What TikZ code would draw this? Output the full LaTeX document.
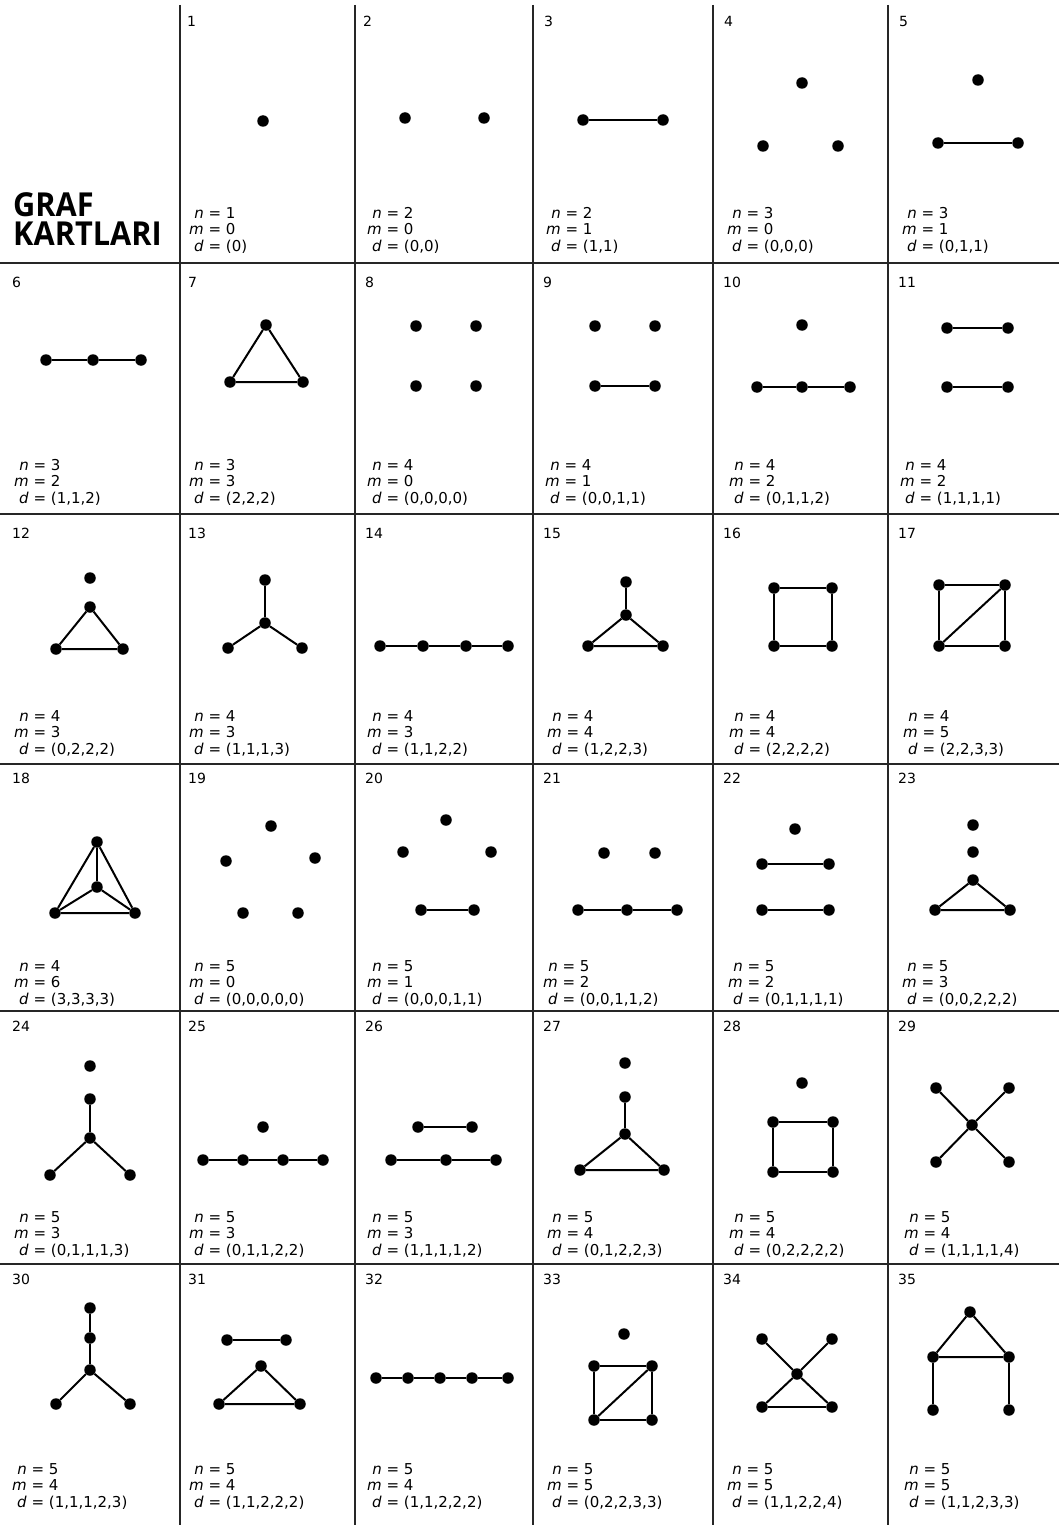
\documentclass[tikz,border=0pt]{standalone}
\usepackage{fontspec}
\setmainfont{DejaVu Sans}
\newfontfamily\titlefont[FakeStretch=0.93]{Open Sans}
\newcommand\cardinfo[5]{\node[info] (#1) at (#2) {\begin{tabular}[b]{@{}r@{\ =\ }l@{}}\textit{n}&#3\\\textit{m}&#4\\\textit{d}&#5\end{tabular}};}
\begin{document}
\begin{tikzpicture}[x=1pt,y=-1pt,
  v/.style={circle,fill=black,inner sep=0pt,minimum size=11.5pt},
  e/.style={line width=2pt},
  rule/.style={line width=1.8pt,black!85},
  num/.style={anchor=base west,inner sep=0pt,font=\fontsize{14}{16}\selectfont},
  info/.style={anchor=base west,inner sep=0pt,font=\fontsize{15}{16}\selectfont},
  ttl/.style={anchor=north west,inner sep=0pt,align=left,font=\titlefont\bfseries\fontsize{33}{29.5}\selectfont}]
\fill[white] (0,0) rectangle (1059,1525);
\useasboundingbox (0,0) rectangle (1059,1525);
% grid
\foreach \yy in {263,514,764,1011,1264} \draw[rule] (0,\yy) -- (1059,\yy);
\foreach \xx in {180,355,533,713,888} \draw[rule] (\xx,5) -- (\xx,1525);
% title
\node[ttl] (title) at (13,192) {GRAF\\KARTLARI};
% cell numbers
\node[num] (n1) at (187,27) {1};
\node[num] (n2) at (363,27) {2};
\node[num] (n3) at (544,27) {3};
\node[num] (n4) at (724,27) {4};
\node[num] (n5) at (899,27) {5};
\node[num] (n6) at (12,287) {6};
\node[num] (n7) at (188,287) {7};
\node[num] (n8) at (365,287) {8};
\node[num] (n9) at (543,287) {9};
\node[num] (n10) at (723,287) {10};
\node[num] (n11) at (898,287) {11};
\node[num] (n12) at (12,538) {12};
\node[num] (n13) at (188,538) {13};
\node[num] (n14) at (365,538) {14};
\node[num] (n15) at (543,538) {15};
\node[num] (n16) at (723,538) {16};
\node[num] (n17) at (898,538) {17};
\node[num] (n18) at (12,783) {18};
\node[num] (n19) at (188,783) {19};
\node[num] (n20) at (365,783) {20};
\node[num] (n21) at (543,783) {21};
\node[num] (n22) at (723,783) {22};
\node[num] (n23) at (898,783) {23};
\node[num] (n24) at (12,1031) {24};
\node[num] (n25) at (188,1031) {25};
\node[num] (n26) at (365,1031) {26};
\node[num] (n27) at (543,1031) {27};
\node[num] (n28) at (723,1031) {28};
\node[num] (n29) at (898,1031) {29};
\node[num] (n30) at (12,1284) {30};
\node[num] (n31) at (188,1284) {31};
\node[num] (n32) at (365,1284) {32};
\node[num] (n33) at (543,1284) {33};
\node[num] (n34) at (723,1284) {34};
\node[num] (n35) at (898,1284) {35};
% info texts
\cardinfo{i1}{189,251}{1}{0}{(0)}
\cardinfo{i2}{367,251}{2}{0}{(0,0)}
\cardinfo{i3}{546,251}{2}{1}{(1,1)}
\cardinfo{i4}{727,251}{3}{0}{(0,0,0)}
\cardinfo{i5}{902,251}{3}{1}{(0,1,1)}
\cardinfo{i6}{14,503}{3}{2}{(1,1,2)}
\cardinfo{i7}{189,503}{3}{3}{(2,2,2)}
\cardinfo{i8}{367,503}{4}{0}{(0,0,0,0)}
\cardinfo{i9}{545,503}{4}{1}{(0,0,1,1)}
\cardinfo{i10}{729,503}{4}{2}{(0,1,1,2)}
\cardinfo{i11}{900,503}{4}{2}{(1,1,1,1)}
\cardinfo{i12}{14,754}{4}{3}{(0,2,2,2)}
\cardinfo{i13}{189,754}{4}{3}{(1,1,1,3)}
\cardinfo{i14}{367,754}{4}{3}{(1,1,2,2)}
\cardinfo{i15}{547,754}{4}{4}{(1,2,2,3)}
\cardinfo{i16}{729,754}{4}{4}{(2,2,2,2)}
\cardinfo{i17}{903,754}{4}{5}{(2,2,3,3)}
\cardinfo{i18}{14,1004}{4}{6}{(3,3,3,3)}
\cardinfo{i19}{189,1004}{5}{0}{(0,0,0,0,0)}
\cardinfo{i20}{367,1004}{5}{1}{(0,0,0,1,1)}
\cardinfo{i21}{543,1004}{5}{2}{(0,0,1,1,2)}
\cardinfo{i22}{728,1004}{5}{2}{(0,1,1,1,1)}
\cardinfo{i23}{902,1004}{5}{3}{(0,0,2,2,2)}
\cardinfo{i24}{14,1255}{5}{3}{(0,1,1,1,3)}
\cardinfo{i25}{189,1255}{5}{3}{(0,1,1,2,2)}
\cardinfo{i26}{367,1255}{5}{3}{(1,1,1,1,2)}
\cardinfo{i27}{547,1255}{5}{4}{(0,1,2,2,3)}
\cardinfo{i28}{729,1255}{5}{4}{(0,2,2,2,2)}
\cardinfo{i29}{904,1255}{5}{4}{(1,1,1,1,4)}
\cardinfo{i30}{12,1507}{5}{4}{(1,1,1,2,3)}
\cardinfo{i31}{189,1507}{5}{4}{(1,1,2,2,2)}
\cardinfo{i32}{367,1507}{5}{4}{(1,1,2,2,2)}
\cardinfo{i33}{547,1507}{5}{5}{(0,2,2,3,3)}
\cardinfo{i34}{727,1507}{5}{5}{(1,1,2,2,4)}
\cardinfo{i35}{904,1507}{5}{5}{(1,1,2,3,3)}
% ---------- graphs ----------
% 1
\node[v] (g1a) at (263,121) {};
% 2
\node[v] (g2a) at (405,118) {};
\node[v] (g2b) at (484,118) {};
% 3
\node[v] (g3a) at (583,120) {};
\node[v] (g3b) at (663,120) {};
\draw[e] (g3a) -- (g3b);
% 4
\node[v] (g4a) at (802,83) {};
\node[v] (g4b) at (763,146) {};
\node[v] (g4c) at (838,146) {};
% 5
\node[v] (g5a) at (978,80) {};
\node[v] (g5b) at (938,143) {};
\node[v] (g5c) at (1018,143) {};
\draw[e] (g5b) -- (g5c);
% 6
\node[v] (g6a) at (46,360) {};
\node[v] (g6b) at (93,360) {};
\node[v] (g6c) at (141,360) {};
\draw[e] (g6a) -- (g6b) -- (g6c);
% 7
\node[v] (g7a) at (266,325) {};
\node[v] (g7b) at (230,382) {};
\node[v] (g7c) at (303,382) {};
\draw[e] (g7a) -- (g7b) -- (g7c) -- (g7a);
% 8
\node[v] (g8a) at (416,326) {};
\node[v] (g8b) at (476,326) {};
\node[v] (g8c) at (416,386) {};
\node[v] (g8d) at (476,386) {};
% 9
\node[v] (g9a) at (595,326) {};
\node[v] (g9b) at (655,326) {};
\node[v] (g9c) at (595,386) {};
\node[v] (g9d) at (655,386) {};
\draw[e] (g9c) -- (g9d);
% 10
\node[v] (g10a) at (802,325) {};
\node[v] (g10b) at (757,387) {};
\node[v] (g10c) at (802,387) {};
\node[v] (g10d) at (850,387) {};
\draw[e] (g10b) -- (g10c) -- (g10d);
% 11
\node[v] (g11a) at (947,328) {};
\node[v] (g11b) at (1008,328) {};
\node[v] (g11c) at (947,387) {};
\node[v] (g11d) at (1008,387) {};
\draw[e] (g11a) -- (g11b);
\draw[e] (g11c) -- (g11d);
% 12
\node[v] (g12a) at (90,578) {};
\node[v] (g12b) at (90,607) {};
\node[v] (g12c) at (56,649) {};
\node[v] (g12d) at (123,649) {};
\draw[e] (g12b) -- (g12c) -- (g12d) -- (g12b);
% 13
\node[v] (g13a) at (265,580) {};
\node[v] (g13b) at (265,623) {};
\node[v] (g13c) at (228,648) {};
\node[v] (g13d) at (302,648) {};
\draw[e] (g13a) -- (g13b);
\draw[e] (g13b) -- (g13c);
\draw[e] (g13b) -- (g13d);
% 14
\node[v] (g14a) at (380,646) {};
\node[v] (g14b) at (423,646) {};
\node[v] (g14c) at (466,646) {};
\node[v] (g14d) at (508,646) {};
\draw[e] (g14a) -- (g14b) -- (g14c) -- (g14d);
% 15
\node[v] (g15a) at (626,582) {};
\node[v] (g15b) at (626,615) {};
\node[v] (g15c) at (588,646) {};
\node[v] (g15d) at (663,646) {};
\draw[e] (g15a) -- (g15b);
\draw[e] (g15b) -- (g15c) -- (g15d) -- (g15b);
% 16
\node[v] (g16a) at (774,588) {};
\node[v] (g16b) at (832,588) {};
\node[v] (g16c) at (832,646) {};
\node[v] (g16d) at (774,646) {};
\draw[e] (g16a) -- (g16b) -- (g16c) -- (g16d) -- (g16a);
% 17
\node[v] (g17a) at (939,585) {};
\node[v] (g17b) at (1005,585) {};
\node[v] (g17c) at (1005,646) {};
\node[v] (g17d) at (939,646) {};
\draw[e] (g17a) -- (g17b) -- (g17c) -- (g17d) -- (g17a);
\draw[e] (g17d) -- (g17b);
% 18
\node[v] (g18a) at (97,842) {};
\node[v] (g18b) at (97,887) {};
\node[v] (g18c) at (55,913) {};
\node[v] (g18d) at (135,913) {};
\draw[e] (g18a) -- (g18c) -- (g18d) -- (g18a);
\draw[e] (g18b) -- (g18a);
\draw[e] (g18b) -- (g18c);
\draw[e] (g18b) -- (g18d);
% 19
\node[v] (g19a) at (271,826) {};
\node[v] (g19b) at (226,861) {};
\node[v] (g19c) at (315,858) {};
\node[v] (g19d) at (243,913) {};
\node[v] (g19e) at (298,913) {};
% 20
\node[v] (g20a) at (446,820) {};
\node[v] (g20b) at (403,852) {};
\node[v] (g20c) at (491,852) {};
\node[v] (g20d) at (421,910) {};
\node[v] (g20e) at (474,910) {};
\draw[e] (g20d) -- (g20e);
% 21
\node[v] (g21a) at (604,853) {};
\node[v] (g21b) at (655,853) {};
\node[v] (g21c) at (578,910) {};
\node[v] (g21d) at (627,910) {};
\node[v] (g21e) at (677,910) {};
\draw[e] (g21c) -- (g21d) -- (g21e);
% 22
\node[v] (g22a) at (795,829) {};
\node[v] (g22b) at (762,864) {};
\node[v] (g22c) at (829,864) {};
\node[v] (g22d) at (762,910) {};
\node[v] (g22e) at (829,910) {};
\draw[e] (g22b) -- (g22c);
\draw[e] (g22d) -- (g22e);
% 23
\node[v] (g23a) at (973,825) {};
\node[v] (g23b) at (973,852) {};
\node[v] (g23c) at (973,880) {};
\node[v] (g23d) at (935,910) {};
\node[v] (g23e) at (1010,910) {};
\draw[e] (g23c) -- (g23d) -- (g23e) -- (g23c);
% 24
\node[v] (g24a) at (90,1066) {};
\node[v] (g24b) at (90,1099) {};
\node[v] (g24c) at (90,1138) {};
\node[v] (g24d) at (50,1175) {};
\node[v] (g24e) at (130,1175) {};
\draw[e] (g24b) -- (g24c);
\draw[e] (g24c) -- (g24d);
\draw[e] (g24c) -- (g24e);
% 25
\node[v] (g25a) at (263,1127) {};
\node[v] (g25b) at (203,1160) {};
\node[v] (g25c) at (243,1160) {};
\node[v] (g25d) at (283,1160) {};
\node[v] (g25e) at (323,1160) {};
\draw[e] (g25b) -- (g25c) -- (g25d) -- (g25e);
% 26
\node[v] (g26a) at (418,1127) {};
\node[v] (g26b) at (472,1127) {};
\node[v] (g26c) at (391,1160) {};
\node[v] (g26d) at (446,1160) {};
\node[v] (g26e) at (496,1160) {};
\draw[e] (g26a) -- (g26b);
\draw[e] (g26c) -- (g26d) -- (g26e);
% 27
\node[v] (g27a) at (625,1063) {};
\node[v] (g27b) at (625,1097) {};
\node[v] (g27c) at (625,1134) {};
\node[v] (g27d) at (580,1170) {};
\node[v] (g27e) at (664,1170) {};
\draw[e] (g27b) -- (g27c);
\draw[e] (g27c) -- (g27d) -- (g27e) -- (g27c);
% 28
\node[v] (g28a) at (802,1083) {};
\node[v] (g28b) at (773,1122) {};
\node[v] (g28c) at (833,1122) {};
\node[v] (g28d) at (833,1172) {};
\node[v] (g28e) at (773,1172) {};
\draw[e] (g28b) -- (g28c) -- (g28d) -- (g28e) -- (g28b);
% 29
\node[v] (g29a) at (972,1125) {};
\node[v] (g29b) at (936,1088) {};
\node[v] (g29c) at (1009,1088) {};
\node[v] (g29d) at (936,1162) {};
\node[v] (g29e) at (1009,1162) {};
\draw[e] (g29a) -- (g29b);
\draw[e] (g29a) -- (g29c);
\draw[e] (g29a) -- (g29d);
\draw[e] (g29a) -- (g29e);
% 30
\node[v] (g30a) at (90,1308) {};
\node[v] (g30b) at (90,1338) {};
\node[v] (g30c) at (90,1370) {};
\node[v] (g30d) at (56,1404) {};
\node[v] (g30e) at (130,1404) {};
\draw[e] (g30a) -- (g30b) -- (g30c);
\draw[e] (g30c) -- (g30d);
\draw[e] (g30c) -- (g30e);
% 31
\node[v] (g31a) at (227,1340) {};
\node[v] (g31b) at (286,1340) {};
\node[v] (g31c) at (261,1366) {};
\node[v] (g31d) at (219,1404) {};
\node[v] (g31e) at (300,1404) {};
\draw[e] (g31a) -- (g31b);
\draw[e] (g31c) -- (g31d) -- (g31e) -- (g31c);
% 32
\node[v] (g32a) at (376,1378) {};
\node[v] (g32b) at (408,1378) {};
\node[v] (g32c) at (440,1378) {};
\node[v] (g32d) at (472,1378) {};
\node[v] (g32e) at (508,1378) {};
\draw[e] (g32a) -- (g32b) -- (g32c) -- (g32d) -- (g32e);
% 33
\node[v] (g33a) at (624,1334) {};
\node[v] (g33b) at (594,1366) {};
\node[v] (g33c) at (652,1366) {};
\node[v] (g33d) at (652,1420) {};
\node[v] (g33e) at (594,1420) {};
\draw[e] (g33b) -- (g33c) -- (g33d) -- (g33e) -- (g33b);
\draw[e] (g33e) -- (g33c);
% 34
\node[v] (g34a) at (797,1374) {};
\node[v] (g34b) at (762,1339) {};
\node[v] (g34c) at (832,1339) {};
\node[v] (g34d) at (762,1407) {};
\node[v] (g34e) at (832,1407) {};
\draw[e] (g34a) -- (g34b);
\draw[e] (g34a) -- (g34c);
\draw[e] (g34a) -- (g34d);
\draw[e] (g34a) -- (g34e);
\draw[e] (g34d) -- (g34e);
% 35
\node[v] (g35a) at (970,1312) {};
\node[v] (g35b) at (933,1357) {};
\node[v] (g35c) at (1009,1357) {};
\node[v] (g35d) at (933,1410) {};
\node[v] (g35e) at (1009,1410) {};
\draw[e] (g35a) -- (g35b) -- (g35c) -- (g35a);
\draw[e] (g35b) -- (g35d);
\draw[e] (g35c) -- (g35e);
\end{tikzpicture}
\end{document}
